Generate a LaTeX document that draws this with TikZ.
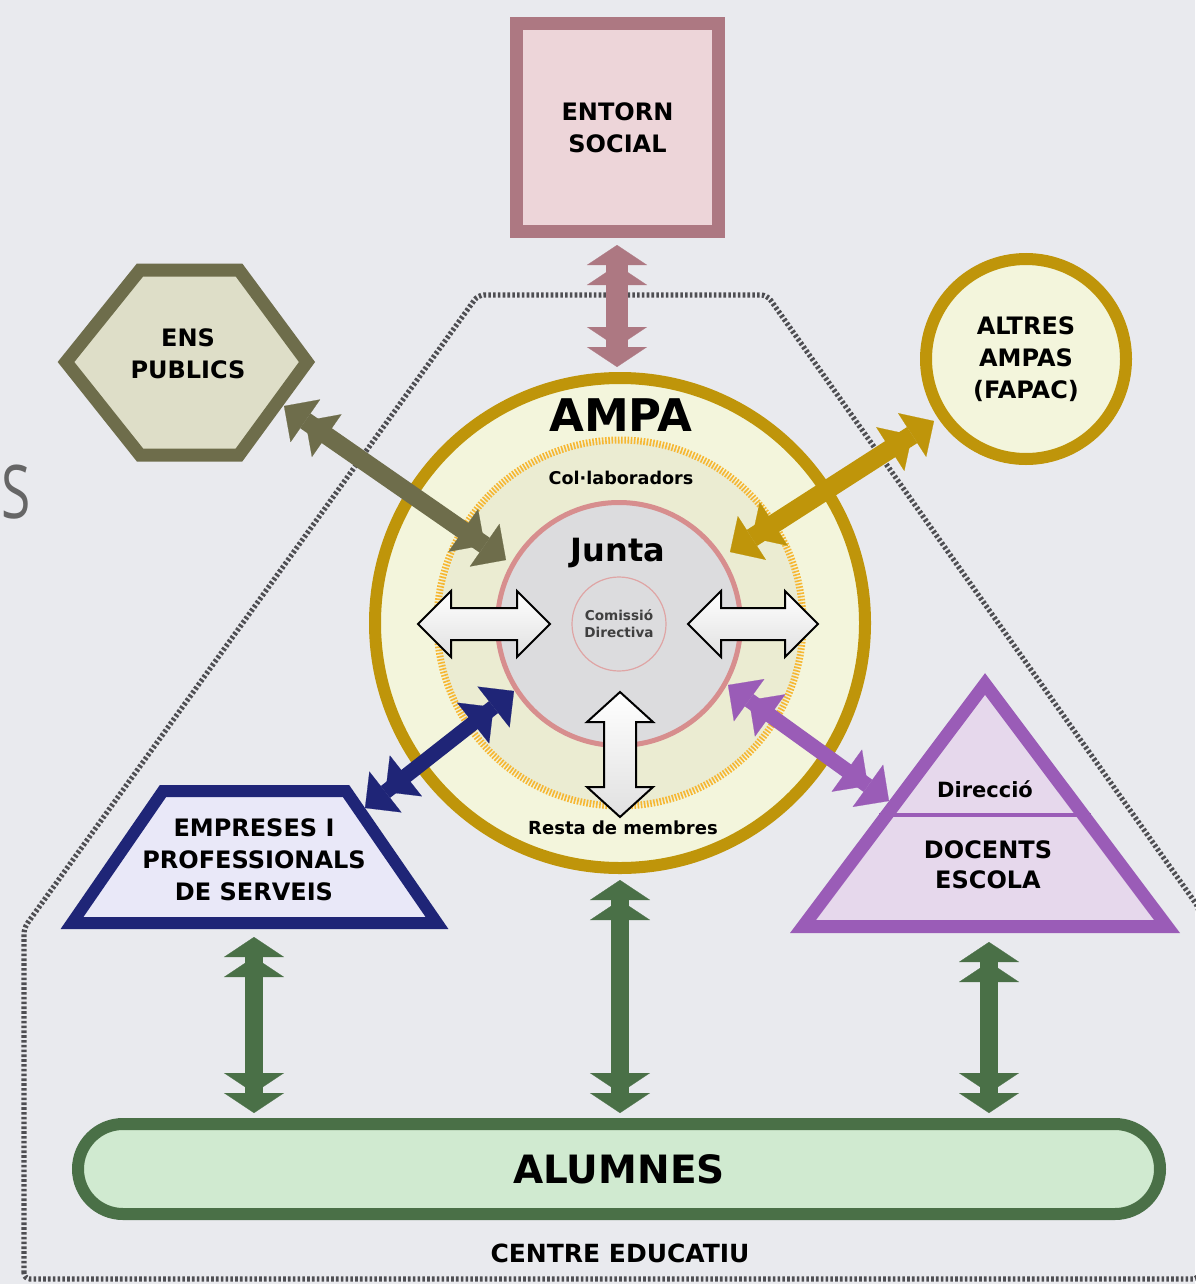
\documentclass[tikz,border=0pt]{standalone}
\usepackage{fontspec}
\setmainfont{DejaVu Sans}
\newfontfamily\slidefont{Open Sans}
\usetikzlibrary{arrows.meta}
\definecolor{bg}{HTML}{E9EAEE}
\definecolor{dotc}{HTML}{4E4E52}
\definecolor{pinkD}{HTML}{AD7882}
\definecolor{pinkF}{HTML}{EDD5D9}
\definecolor{oliveD}{HTML}{6E6D4B}
\definecolor{oliveF}{HTML}{DEDEC8}
\definecolor{goldD}{HTML}{BF950A}
\definecolor{creamF}{HTML}{F3F5DC}
\definecolor{collabF}{HTML}{EBECD2}
\definecolor{orangeD}{HTML}{F6B733}
\definecolor{juntaD}{HTML}{D78E8E}
\definecolor{grayF}{HTML}{DCDCDE}
\definecolor{navyD}{HTML}{1F2577}
\definecolor{navyF}{HTML}{E9E8F8}
\definecolor{purpD}{HTML}{9A5CB7}
\definecolor{purpF}{HTML}{E6D8EC}
\definecolor{greenD}{HTML}{4A7047}
\definecolor{greenF}{HTML}{D0EAD0}
\tikzset{
  lbl/.style={font=\bfseries\fontsize{12}{16}\selectfont, align=center, inner sep=0pt, text=black},
  pinkhd/.tip={Triangle[width=30pt,length=10pt,line width=0.1pt,sep=0pt] Triangle[width=30pt,length=10pt,line width=0.1pt,sep=0pt]},
  greenhd/.tip={Triangle[width=30pt,length=10pt,line width=0.1pt,sep=0pt] Triangle[width=30pt,length=10pt,line width=0.1pt,sep=0pt]},
  diaghd/.tip={Triangle[width=26pt,length=13pt,line width=0.1pt,sep=0pt] Triangle[width=26pt,length=13pt,line width=0.1pt,sep=0pt]},
  whitearr/.style={draw=black, line width=1pt, line join=miter, top color=white, bottom color=black!12},
  dotborder/.style={draw=dotc, line width=2.6pt, dash pattern=on 1.3pt off 1.1pt, rounded corners=3pt},
}
\begin{document}
\begin{tikzpicture}[x=0.5pt,y=-0.5pt]
\useasboundingbox (0,0) rectangle (1195,1284);
\fill[bg] (0,0) rectangle (1195,1284);

% slide letter at left edge
\node[anchor=base west, inner sep=0pt, xscale=0.72, font=\slidefont\fontsize{37}{40}\selectfont, text=black!60] (slideS) at (1,518) {S};

% centre educatiu border
\path[dotborder] (24,1279) -- (24,928) -- (478,295) -- (767,295) -- (1199,908) -- (1199,1279) -- cycle;

% ENTORN SOCIAL
\node[lbl, draw=pinkD, fill=pinkF, line width=6.5pt, minimum width=101pt, minimum height=104pt] (entorn) at (617.5,127.5) {ENTORN\\SOCIAL};

% ENS PUBLICS
\path[draw=oliveD, fill=oliveF, line width=6.5pt, line join=miter] (66,362) -- (140,270) -- (239,270) -- (307,362) -- (239,455) -- (140,455) -- cycle;
\node[lbl] (ens) at (188,354) {ENS\\PUBLICS};

% ALTRES AMPAS
\node[lbl, circle, draw=goldD, fill=creamF, line width=6pt, minimum size=100pt] (altres) at (1026,359) {ALTRES\\AMPAS\\(FAPAC)};

% AMPA circles
\node[circle, draw=goldD, fill=creamF, line width=6pt, minimum size=245pt, inner sep=0pt] (ampa) at (620,623) {};
\node[circle, draw=orangeD, fill=collabF, line width=3.5pt, dash pattern=on 0.8pt off 0.8pt, minimum size=183pt, inner sep=0pt] (collab) at (620,623) {};
\node[circle, draw=juntaD, fill=grayF, line width=2.5pt, minimum size=121.5pt, inner sep=0pt] (junta) at (619,624) {};
\node[circle, draw=juntaD!80, fill=grayF, line width=0.6pt, minimum size=47pt, inner sep=0pt, align=center, text=black!75, font=\bfseries\fontsize{6.8}{8.5}\selectfont] (comissio) at (619,624) {Comissió\\Directiva};

\node[lbl, font=\bfseries\fontsize{22.5}{26}\selectfont] (ampalbl) at (621,415) {AMPA};
\node[lbl, font=\bfseries\fontsize{8.8}{10}\selectfont] (collablbl) at (621,478) {Col·laboradors};
\node[lbl, font=\bfseries\fontsize{16}{18}\selectfont] (juntalbl) at (618,553) {Junta};
\node[lbl, font=\bfseries\fontsize{9}{10}\selectfont] (restalbl) at (623,828) {Resta de membres};

% white double arrows
\path[whitearr] (418,624) -- (451,591) -- (451,608) -- (517,608) -- (517,591) -- (550,624) -- (517,657) -- (517,640) -- (451,640) -- (451,657) -- cycle;
\path[whitearr] (688,624) -- (721,591) -- (721,608) -- (785,608) -- (785,591) -- (818,624) -- (785,657) -- (785,640) -- (721,640) -- (721,657) -- cycle;
\path[whitearr] (620,692) -- (653,722) -- (636,722) -- (636,787) -- (653,787) -- (620,817) -- (587,787) -- (604,787) -- (604,722) -- (587,722) -- cycle;

% EMPRESES
\path[draw=navyD, fill=navyF, line width=6pt, line join=miter] (163,791) -- (346,791) -- (437,923) -- (72,923) -- cycle;
\node[lbl] (empr) at (254,859.5) {EMPRESES I\\PROFESSIONALS\\DE SERVEIS};

% DOCENTS
\path[draw=purpD, fill=purpF, line width=6.5pt, line join=miter] (985,684) -- (1167,926.5) -- (803,926.5) -- cycle;
\draw[purpD, line width=2pt] (879,815) -- (1091,815);
\node[lbl, font=\bfseries\fontsize{10.5}{12}\selectfont] (direccio) at (985,789) {Direcció};
\node[lbl, font=\bfseries\fontsize{12}{15}\selectfont] (docents) at (988,865) {DOCENTS\\ESCOLA};

% ALUMNES
\node[lbl, font=\bfseries\fontsize{19.5}{22}\selectfont, draw=greenD, fill=greenF, line width=6pt, rounded corners=22.5pt, minimum width=541pt, minimum height=45pt] (alumnes) at (619,1169) {ALUMNES};
\node[lbl, font=\bfseries\fontsize{12.5}{14}\selectfont] (centre) at (620,1253) {CENTRE EDUCATIU};

% connectors
\coordinate (pA) at (617,245); \coordinate (pB) at (617,367);
\draw[pinkD, line width=11pt, pinkhd-pinkhd] (pA) -- (pB);

\coordinate (oA) at (506,560); \coordinate (oB) at (284,406);
\draw[oliveD, line width=9pt, diaghd-diaghd] (oA) -- (oB);
\coordinate (gA) at (730,552); \coordinate (gB) at (934,421);
\draw[goldD, line width=9.5pt, diaghd-diaghd] (gA) -- (gB);
\coordinate (nA) at (365,808); \coordinate (nB) at (514,691);
\draw[navyD, line width=7.5pt, diaghd-diaghd] (nA) -- (nB);
\coordinate (uA) at (728,685); \coordinate (uB) at (889,801);
\draw[purpD, line width=7.5pt, diaghd-diaghd] (uA) -- (uB);

\coordinate (g1A) at (254,937); \coordinate (g1B) at (254,1113);
\coordinate (g2A) at (620,880); \coordinate (g2B) at (620,1113);
\coordinate (g3A) at (989,942); \coordinate (g3B) at (989,1113);
\draw[greenD, line width=9pt, greenhd-greenhd] (g1A) -- (g1B);
\draw[greenD, line width=9pt, greenhd-greenhd] (g2A) -- (g2B);
\draw[greenD, line width=9pt, greenhd-greenhd] (g3A) -- (g3B);
\end{tikzpicture}
\end{document}
